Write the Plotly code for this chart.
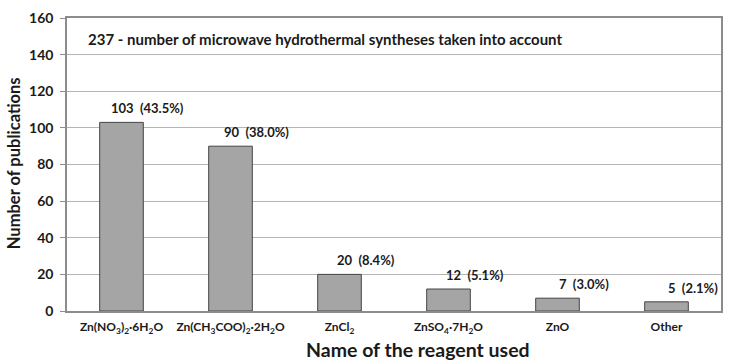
import plotly.graph_objects as go

categories = ["Zn(NO<sub>3</sub>)<sub>2</sub>·6H<sub>2</sub>O",
              "Zn(CH<sub>3</sub>COO)<sub>2</sub>·2H<sub>2</sub>O",
              "ZnCl<sub>2</sub>",
              "ZnSO<sub>4</sub>·7H<sub>2</sub>O",
              "ZnO",
              "Other"]
counts = [103, 90, 20, 12, 7, 5]
percents = ["43.5%", "38.0%", "8.4%", "5.1%", "3.0%", "2.1%"]
y_ticks = [0, 20, 40, 60, 80, 100, 120, 140, 160]

FONT = "Lato"
TXT = "#1a1a1a"
fig = go.Figure()
fig.add_trace(go.Bar(
    x=categories, y=counts,
    marker=dict(color="#a5a5a5", line=dict(color="#444444", width=1)),
    width=0.4,
))

for c, v, p in zip(categories, counts, percents):
    fig.add_annotation(x=c, y=v, text=f"{v}&nbsp;&nbsp;({p})", showarrow=False,
                       xshift=26, yshift=14, xanchor="center", yanchor="middle",
                       font=dict(family=FONT, size=13, color=TXT, weight="bold"))

fig.add_annotation(xref="paper", yref="paper", x=0.029, y=0.930,
                   text="237 - number of microwave hydrothermal syntheses taken into account",
                   showarrow=False, xanchor="left", yanchor="middle",
                   font=dict(family=FONT, size=15, color=TXT, weight="bold"))

fig.add_annotation(xref="paper", yref="paper", x=0.5366, y=-0.1304,
                   text="Name of the reagent used", showarrow=False,
                   xanchor="center", yanchor="middle",
                   font=dict(family=FONT, size=19.5, color=TXT, weight="bold"))

fig.add_annotation(xref="paper", yref="paper", x=-0.0808, y=0.505,
                   text="Number of publications", showarrow=False, textangle=-90,
                   xanchor="center", yanchor="middle",
                   font=dict(family=FONT, size=16.5, color=TXT, weight="bold"))

fig.update_layout(
    width=732, height=363,
    margin=dict(l=67, r=9, t=12, b=52),
    paper_bgcolor="white", plot_bgcolor="white",
    showlegend=False,
    bargap=0.6,
    font=dict(family=FONT, color=TXT),
    xaxis=dict(
        showgrid=False, showline=True, linecolor="#8c8c8c", linewidth=1.5, mirror=True,
        tickfont=dict(family=FONT, size=12, color=TXT, weight="bold"),
        ticks="", ticklabelstandoff=4, fixedrange=True,
    ),
    yaxis=dict(
        range=[0, 160], tickvals=y_ticks,
        showgrid=True, gridcolor="#b4b4b4", gridwidth=1,
        showline=True, linecolor="#8c8c8c", linewidth=1.5, mirror=True,
        ticks="outside", ticklen=5, tickcolor="#8c8c8c", ticklabelstandoff=4,
        tickfont=dict(family=FONT, size=14, color=TXT, weight="bold"),
        zeroline=False, fixedrange=True,
    ),
)

fig.write_html("out.html", config={"displayModeBar": False},
               post_script="document.body.style.margin='0px';")
